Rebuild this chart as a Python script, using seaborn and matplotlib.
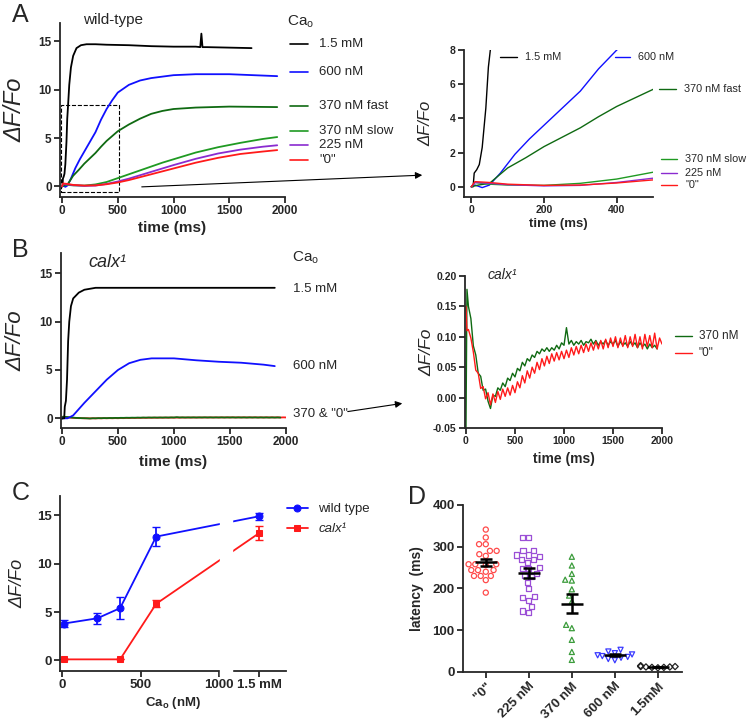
import numpy as np
import pandas as pd
import matplotlib
matplotlib.use('Agg')
import matplotlib.pyplot as plt
import seaborn as sns
from matplotlib.patches import Rectangle, FancyArrowPatch

sns.set_style('ticks')
plt.rcParams['font.family'] = ['Liberation Sans', 'DejaVu Sans']
plt.rcParams['mathtext.fontset'] = 'custom'
plt.rcParams['mathtext.rm'] = 'Liberation Sans'
plt.rcParams['mathtext.it'] = 'Liberation Sans:italic'
plt.rcParams['mathtext.bf'] = 'Liberation Sans:bold'
plt.rcParams['axes.linewidth'] = 1.3

# ---- A: wild-type traces (time in ms, dF/F0) ----
wt_t_15mM = [0, 5, 8, 15, 22, 30, 40, 47, 55, 65, 80, 100, 130, 170, 220, 300, 400,
             600, 800, 1000, 1200, 1240, 1250, 1260, 1300, 1500, 1700]
wt_15mM = [0, 0, 0.8, 1.0, 1.3, 2.3, 4.6, 7.0, 8.5, 10.5, 12.3, 13.5, 14.3, 14.6, 14.7, 14.7, 14.65,
           14.6, 14.5, 14.45, 14.45, 14.4, 15.8, 14.4, 14.4, 14.35, 14.3]
wt_t_600 = [0, 10, 30, 50, 80, 120, 160, 200, 250, 300, 350, 400, 450, 500, 600, 700, 800,
            1000, 1200, 1500, 1930]
wt_600 = [0, 0.1, -0.05, 0.1, 0.8, 1.9, 2.8, 3.6, 4.6, 5.6, 6.9, 8.0, 8.9, 9.7, 10.5, 10.95, 11.2,
          11.5, 11.6, 11.6, 11.4]
wt_t_370f = [0, 20, 50, 100, 150, 200, 250, 300, 350, 400, 450, 500, 600, 700, 800, 900, 1000,
             1200, 1500, 1930]
wt_370f = [0, 0.1, 0.2, 1.1, 1.7, 2.35, 2.9, 3.45, 4.1, 4.7, 5.2, 5.7, 6.4, 7.0, 7.5, 7.8, 8.0,
           8.15, 8.25, 8.2]
wt_t_slow = [0, 10, 50, 100, 200, 300, 400, 500, 600, 700, 800, 900, 1000, 1200, 1400, 1600, 1800, 1930]
wt_370s = [0, 0.25, 0.15, 0.1, 0.08, 0.2, 0.45, 0.85, 1.25, 1.65, 2.05, 2.45, 2.8, 3.5, 4.05, 4.5, 4.9, 5.1]
wt_225 = [0, 0.25, 0.2, 0.12, 0.05, 0.08, 0.25, 0.5, 0.8, 1.15, 1.5, 1.85, 2.2, 2.85, 3.4, 3.8, 4.1, 4.25]
wt_0 = [0, 0.3, 0.25, 0.15, 0.08, 0.1, 0.22, 0.4, 0.65, 0.95, 1.25, 1.55, 1.85, 2.45, 2.95, 3.35, 3.6, 3.75]
wt_labels = ['1.5 mM', '600 nM', '370 nM fast', '370 nM slow', '225 nM', '"0"']
wt_label_y = [14.7, 11.8, 8.3, 5.7, 4.3, 2.7]
wt_zoom_label_y = [7.6, 7.6, 5.73, 1.64, 0.82, 0.12]

# ---- B: calx1 traces ----
cx_t_15mM = [0, 20, 25, 35, 45, 55, 65, 80, 100, 150, 200, 300, 600, 1000, 1400, 1900]
cx_15mM = [0, 0, 1.2, 1.8, 4.0, 8.0, 10.0, 11.6, 12.4, 13.0, 13.3, 13.5, 13.5, 13.5, 13.5, 13.5]
cx_t_600 = [0, 50, 100, 200, 300, 400, 500, 600, 700, 800, 1000, 1200, 1400, 1600, 1800, 1900]
cx_600 = [0, 0, 0.3, 1.6, 2.8, 4.0, 5.0, 5.7, 6.05, 6.2, 6.2, 6.0, 5.85, 5.75, 5.55, 5.4]
cx_t = [0, 10, 25, 50, 75, 100, 125, 150, 175, 200,
        225, 250, 275, 300, 325, 350, 375, 400, 425, 450,
        475, 500, 525, 550, 575, 600, 625, 650, 675, 700,
        725, 750, 775, 800, 825, 850, 875, 900, 925, 950,
        975, 1000, 1025, 1050, 1075, 1100, 1125, 1150, 1175, 1200,
        1225, 1250, 1275, 1300, 1325, 1350, 1375, 1400, 1425, 1450,
        1475, 1500, 1525, 1550, 1575, 1600, 1625, 1650, 1675, 1700,
        1725, 1750, 1775, 1800, 1825, 1850, 1875, 1900, 1925, 1950,
        1975, 2000]
cx_0 = [0.150, 0.110, 0.112, 0.098, 0.075, 0.045, 0.040, 0.015, 0.018, -0.002,
        0.008, -0.012, 0.006, -0.008, 0.010, -0.003, 0.014, 0.002, 0.016, 0.004,
        0.020, 0.008, 0.026, 0.016, 0.036, 0.024, 0.044, 0.032, 0.050, 0.040,
        0.058, 0.046, 0.064, 0.052, 0.068, 0.056, 0.072, 0.060, 0.074, 0.062,
        0.076, 0.064, 0.078, 0.066, 0.082, 0.070, 0.084, 0.072, 0.086, 0.074,
        0.088, 0.076, 0.090, 0.078, 0.092, 0.080, 0.094, 0.080, 0.096, 0.082,
        0.098, 0.084, 0.100, 0.082, 0.098, 0.084, 0.102, 0.082, 0.100, 0.084,
        0.104, 0.082, 0.100, 0.080, 0.104, 0.084, 0.102, 0.082, 0.106, 0.080,
        0.098, 0.088]
cx_370 = [-0.050, 0.178, 0.150, 0.130, 0.085, 0.070, 0.040, 0.035, 0.012, 0.014,
          -0.006, -0.018, 0.004, 0.002, 0.016, 0.012, 0.024, 0.018, 0.032, 0.028,
          0.040, 0.034, 0.048, 0.044, 0.058, 0.052, 0.064, 0.060, 0.070, 0.066,
          0.076, 0.072, 0.080, 0.076, 0.082, 0.076, 0.082, 0.078, 0.086, 0.080,
          0.090, 0.086, 0.115, 0.088, 0.094, 0.086, 0.092, 0.088, 0.094, 0.086,
          0.092, 0.090, 0.096, 0.088, 0.094, 0.086, 0.092, 0.088, 0.094, 0.086,
          0.092, 0.088, 0.094, 0.084, 0.092, 0.086, 0.090, 0.084, 0.092, 0.086,
          0.090, 0.082, 0.090, 0.084, 0.088, 0.080, 0.088, 0.082, 0.086, 0.080]

# ---- C: peak dF/F0 vs Ca_o ----
ca_conc = [10, 225, 370, 600, 1500]
wt_peak = [3.8, 4.35, 5.4, 12.8, 14.9]
wt_peak_sem = [0.4, 0.55, 1.15, 1.0, 0.35]
calx_conc = [10, 370, 600, 1500]
calx_peak = [0.1, 0.1, 5.85, 13.15]
calx_peak_sem = [0, 0, 0.35, 0.75]

# ---- D: latency ----
lat_groups = ['"0"', '225 nM', '370 nM', '600 nM', '1.5mM']
lat_0 = [341, 322, 306, 306, 290, 290, 282, 278, 258, 258, 258, 256, 244, 244, 244, 240, 230, 230, 230, 220, 190]
lat_225 = [322, 322, 290, 290, 280, 280, 276, 270, 270, 262, 250, 247, 247, 236, 230, 228, 215, 200,
           178, 172, 180, 156, 142, 146]
lat_370 = [276, 255, 235, 219, 221, 198, 183, 169, 113, 105, 77, 48, 29]
lat_600 = [53, 49, 45, 42, 40, 38, 36, 34, 31, 28]
lat_15 = [15, 13, 12, 12, 11, 11, 10, 13]

trace_colors = ['black', '#1010ff', '#0f6a12', '#1f9a22', '#8a2bd0', '#ff1a1a']

fig = plt.figure(figsize=(7.5, 7.2), dpi=100)
axA = fig.add_axes([0.080, 0.7264, 0.300, 0.2417])
axA2 = fig.add_axes([0.6187, 0.7264, 0.252, 0.204])
axB = fig.add_axes([0.0813, 0.4056, 0.300, 0.243])
axB2 = fig.add_axes([0.620, 0.4056, 0.2627, 0.2111])
axC = fig.add_axes([0.080, 0.0681, 0.3013, 0.243])
axD = fig.add_axes([0.6173, 0.0667, 0.292, 0.232])


def finish(ax, size):
    sns.despine(ax=ax)
    ax.tick_params(direction='out', length=4, width=1.3, labelsize=size, pad=2)
    for lbl in ax.get_xticklabels() + ax.get_yticklabels():
        lbl.set_fontweight('bold')


def dff_label(ax, size, xpos):
    ax.set_ylabel('ΔF/Fo', fontsize=size, fontstyle='italic')
    ax.yaxis.set_label_coords(xpos, 0.5)


wt_series = [(wt_t_15mM, wt_15mM), (wt_t_600, wt_600), (wt_t_370f, wt_370f),
             (wt_t_slow, wt_370s), (wt_t_slow, wt_225), (wt_t_slow, wt_0)]

# A left
for (t, v), c in zip(wt_series, trace_colors):
    sns.lineplot(x=t, y=v, color=c, lw=1.3, ax=axA, errorbar=None)
axA.set_xlim(-18, 2000)
axA.set_ylim(-1.1, 16.9)
axA.set_xticks([0, 500, 1000, 1500, 2000])
axA.set_yticks([0, 5, 10, 15])
axA.set_xlabel('time (ms)', fontsize=11, fontweight='bold', labelpad=3)
dff_label(axA, 17, -0.15)
axA.add_patch(Rectangle((-5, -0.6), 515, 9.0, fill=False, ls='--', lw=0.8, ec='k', clip_on=False))
axA.text(188, 17.2, 'wild-type', fontsize=11, va='center')
axA.text(2018, 17.0, r'Ca$_\mathregular{o}$', fontsize=11, va='center')
for lab, y, c in zip(wt_labels, wt_label_y, trace_colors):
    axA.plot([2045, 2206], [y, y], color=c, lw=1.2, clip_on=False)
    axA.text(2305, y, lab, fontsize=9.5, va='center')
finish(axA, 8.5)

# A right (zoom)
for (t, v), c in zip(wt_series, trace_colors):
    sns.lineplot(x=t, y=v, color=c, lw=1.0, ax=axA2, errorbar=None)
axA2.set_xlim(-20, 500)
axA2.set_ylim(-0.6, 8)
axA2.set_xticks([0, 200, 400])
axA2.set_yticks([0, 2, 4, 6, 8])
axA2.set_xlabel('time (ms)', fontsize=9.5, fontweight='bold', labelpad=2)
dff_label(axA2, 12, -0.16)
zoom_line_x = [(80, 127), (396, 437), (517, 564), (523, 567), (523, 567), (523, 567)]
for lab, y, c, (x0, x1) in zip(wt_labels, wt_zoom_label_y, trace_colors, zoom_line_x):
    axA2.plot([x0, x1], [y, y], color=c, lw=1.0, clip_on=False)
    axA2.text(x1 + 22, y, lab, fontsize=7.8, va='center')
finish(axA2, 7.5)

# B left
sns.lineplot(x=cx_t, y=cx_0, color=trace_colors[5], lw=1.3, ax=axB, errorbar=None)
sns.lineplot(x=cx_t[:len(cx_370)], y=cx_370, color=trace_colors[2], lw=1.3, ax=axB, errorbar=None)
sns.lineplot(x=cx_t_600, y=cx_600, color=trace_colors[1], lw=1.3, ax=axB, errorbar=None)
sns.lineplot(x=cx_t_15mM, y=cx_15mM, color='black', lw=1.3, ax=axB, errorbar=None)
axB.set_xlim(-9, 2000)
axB.set_ylim(-1, 17.1)
axB.set_xticks([0, 500, 1000, 1500, 2000])
axB.set_yticks([0, 5, 10, 15])
axB.set_xlabel('time (ms)', fontsize=11, fontweight='bold', labelpad=5)
dff_label(axB, 16, -0.155)
axB.text(232, 16.1, 'calx¹', fontsize=13, style='italic', va='center')
axB.text(2054, 16.6, r'Ca$_\mathregular{o}$', fontsize=11, va='center')
axB.text(2062, 13.4, '1.5 mM', fontsize=9.5, va='center')
axB.text(2062, 5.4, '600 nM', fontsize=9.5, va='center')
axB.text(2062, 0.4, '370 & "0"', fontsize=9.5, va='center')
finish(axB, 8.5)

# B right
sns.lineplot(x=cx_t[:len(cx_370)], y=cx_370, color=trace_colors[2], lw=1.0, ax=axB2, errorbar=None)
sns.lineplot(x=cx_t, y=cx_0, color=trace_colors[5], lw=1.0, ax=axB2, errorbar=None)
axB2.set_xlim(-10, 2000)
axB2.set_ylim(-0.05, 0.2)
axB2.set_xticks([0, 500, 1000, 1500, 2000])
axB2.set_yticks([-0.05, 0, 0.05, 0.10, 0.15, 0.20])
axB2.yaxis.set_major_formatter(matplotlib.ticker.FormatStrFormatter('%.2f'))
axB2.set_xlabel('time (ms)', fontsize=10, fontweight='bold', labelpad=4)
dff_label(axB2, 12.5, -0.157)
axB2.text(224, 0.202, 'calx¹', fontsize=10, style='italic', va='center')
for lab, y, c in zip(['370 nM', '"0"'], [0.102, 0.074], [trace_colors[2], trace_colors[5]]):
    axB2.plot([2130, 2303], [y, y], color=c, lw=1.0, clip_on=False)
    axB2.text(2375, y, lab, fontsize=8.5, va='center')
finish(axB2, 7.5)


# C: broken x axis, 1.5 mM drawn after the break
def brk(c):
    return c if c <= 1000 else 1255


wt_x = [brk(c) for c in ca_conc]
calx_x = [brk(c) for c in calx_conc]
sns.lineplot(x=wt_x, y=wt_peak, color='#1010ff', marker='o', markersize=5, mec='#1010ff',
             lw=1.3, ax=axC, label='wild type', errorbar=None)
sns.lineplot(x=calx_x, y=calx_peak, color='#ff1a1a', marker='s', markersize=5, mec='#ff1a1a',
             lw=1.3, ax=axC, label='calx¹', errorbar=None)
axC.errorbar(wt_x, wt_peak, yerr=wt_peak_sem, fmt='none', ecolor='#1010ff', capsize=3, lw=1.3)
axC.errorbar(calx_x, calx_peak, yerr=calx_peak_sem, fmt='none', ecolor='#ff1a1a', capsize=3, lw=1.3)
axC.set_xlim(-13, 1427)
axC.set_ylim(-1.1, 17)
axC.set_xticks([0, 500, 1000, 1255])
axC.set_xticklabels(['0', '500', '1000', '1.5 mM'])
axC.set_yticks([0, 5, 10, 15])
axC.axvspan(1004, 1080, ymin=-0.03, ymax=1, color='white', zorder=5, clip_on=False)
axC.set_xlabel(r'Ca$_\mathbf{o}$ (nM)', fontsize=9.5, fontweight='bold', labelpad=3)
dff_label(axC, 13, -0.15)
leg = axC.legend(loc='upper left', bbox_to_anchor=(0.98, 0.99), frameon=False, fontsize=9.5,
                 handlelength=1.6, handletextpad=0.8, labelspacing=0.6, borderaxespad=0)
leg.get_texts()[1].set_style('italic')
finish(axC, 9.5)

# D: latency scatter
lat_values = [lat_0, lat_225, lat_370, lat_600, lat_15]
lat_colors = ['#ff4a4a', '#9b4fd6', '#3c9c3c', '#3a3aff', '#222222']
lat_markers = ['o', 's', '^', 'v', 'D']
lat_sizes = [3.7, 3.7, 3.7, 3.7, 3.2]
for g, vals, c, m, s in zip(lat_groups, lat_values, lat_colors, lat_markers, lat_sizes):
    df = pd.DataFrame({'group': g, 'latency': vals})
    n_before = len(axD.collections)
    sns.swarmplot(data=df, x='group', y='latency', order=lat_groups, color=c, marker=m,
                  size=s, ax=axD)
    for coll in axD.collections[n_before:]:
        coll.set_facecolor('none')
        coll.set_edgecolor(c)
        coll.set_linewidth(0.9)
for i, vals in enumerate(lat_values):
    mean = np.mean(vals)
    sem = np.std(vals, ddof=1) / np.sqrt(len(vals))
    axD.hlines(mean, i - 0.26, i + 0.26, color='k', lw=1.8, zorder=5)
    axD.errorbar(i, mean, yerr=sem, color='k', capsize=4.5, lw=1.8, capthick=1.8, zorder=5)
axD.set_xlim(-0.53, 4.56)
axD.set_ylim(0, 400)
axD.set_yticks([0, 100, 200, 300, 400])
axD.set_xlabel('')
axD.set_ylabel('latency  (ms)', fontsize=10, fontweight='bold')
axD.yaxis.set_label_coords(-0.178, 0.5)
finish(axD, 9.5)
for lbl in axD.get_xticklabels():
    lbl.set_rotation(45)
    lbl.set_ha('right')
    lbl.set_rotation_mode('anchor')

# arrows from overview panels to zoomed panels
fig.add_artist(FancyArrowPatch((0.1853, 0.7403), (0.5667, 0.7569), transform=fig.transFigure,
                               arrowstyle='-|>', mutation_scale=10, lw=0.8, color='k'))
fig.add_artist(FancyArrowPatch((0.46, 0.4278), (0.54, 0.4403), transform=fig.transFigure,
                               arrowstyle='-|>', mutation_scale=10, lw=0.8, color='k'))

for letter, x, y in [('A', 12, 3), ('B', 12, 238), ('C', 12, 481), ('D', 408, 485)]:
    fig.text(x / 750, 1 - y / 720, letter, fontsize=18, va='top', ha='left')

fig.savefig('out.png', dpi=100)
